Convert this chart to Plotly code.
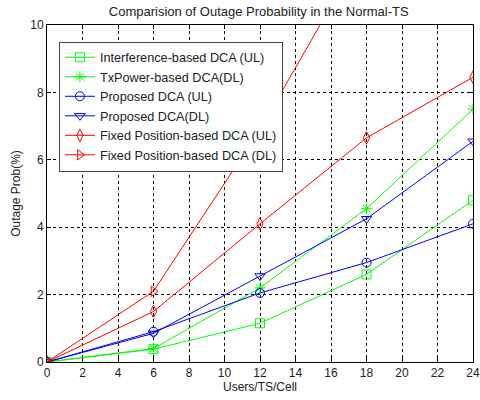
import plotly.graph_objects as go

x = [0, 6, 12, 18, 24]
interf_ul = [0, 0.38, 1.15, 2.6, 4.8]
txpower_dl = [0, 0.4, 2.2, 4.55, 7.5]
prop_ul = [0, 0.9, 2.05, 2.95, 4.1]
prop_dl = [0, 0.85, 2.55, 4.25, 6.55]
fixed_ul = [0, 1.5, 4.1, 6.65, 8.45]
fixed_dl = [0, 2.1, 6.9, 12.4, 18.5]

names = ["Interference-based DCA (UL)", "TxPower-based DCA(DL)", "Proposed DCA (UL)",
         "Proposed DCA(DL)", "Fixed Position-based DCA (UL)", "Fixed Position-based DCA (DL)"]
series = [interf_ul, txpower_dl, prop_ul, prop_dl, fixed_ul, fixed_dl]
colors = ["#00ff00", "#00ff00", "#0000ff", "#0000ff", "#ff0000", "#ff0000"]
symbols = ["square-open", "asterisk-open", "circle-open", "triangle-down-open",
           "diamond-tall-open", "triangle-right-open"]

fig = go.Figure()
for n, s, c, m in zip(names, series, colors, symbols):
    fig.add_trace(go.Scatter(x=x, y=s, name=n, mode="lines+markers",
                             line=dict(color=c, width=1),
                             marker=dict(symbol=m, size=9, color=c, line=dict(color=c, width=1))))

axis_common = dict(showline=True, linecolor="black", linewidth=1, mirror="ticks",
                   ticks="inside", ticklen=4, tickcolor="black", automargin=False,
                   showgrid=True, gridcolor="black", griddash="3px,3px", gridwidth=1,
                   zeroline=False, tickfont=dict(size=12, color="#222"))

fig.update_layout(
    width=480, height=400,
    margin=dict(l=47, r=7, t=25, b=38),
    paper_bgcolor="white", plot_bgcolor="white",
    font=dict(family="Liberation Sans, Arial", size=12, color="black"),
    title=dict(text="Comparision of Outage Probability in the Normal-TS", xref="paper", x=0.497,
               xanchor="center", yref="container", y=0.983, yanchor="top", pad=dict(t=0),
               font=dict(size=13, color="#222")),
    xaxis=dict(range=[0, 24], dtick=2, title=dict(text="Users/TS/Cell", standoff=2, font=dict(size=12, color="#222")),
               **axis_common),
    yaxis=dict(range=[0, 10], dtick=2, title=dict(text="Outage Prob(%)", standoff=7, font=dict(size=12, color="#222")),
               **axis_common),
    legend=dict(x=0.028, y=0.951, xanchor="left", yanchor="top", bgcolor="white",
                bordercolor="#444", borderwidth=1, font=dict(size=12.7, color="#222"),
                tracegroupgap=0, itemwidth=30),
    showlegend=True,
)

fig.write_html("out.html", config={"displayModeBar": False},
               post_script="document.body.style.margin='0';document.body.style.overflow='hidden';")
